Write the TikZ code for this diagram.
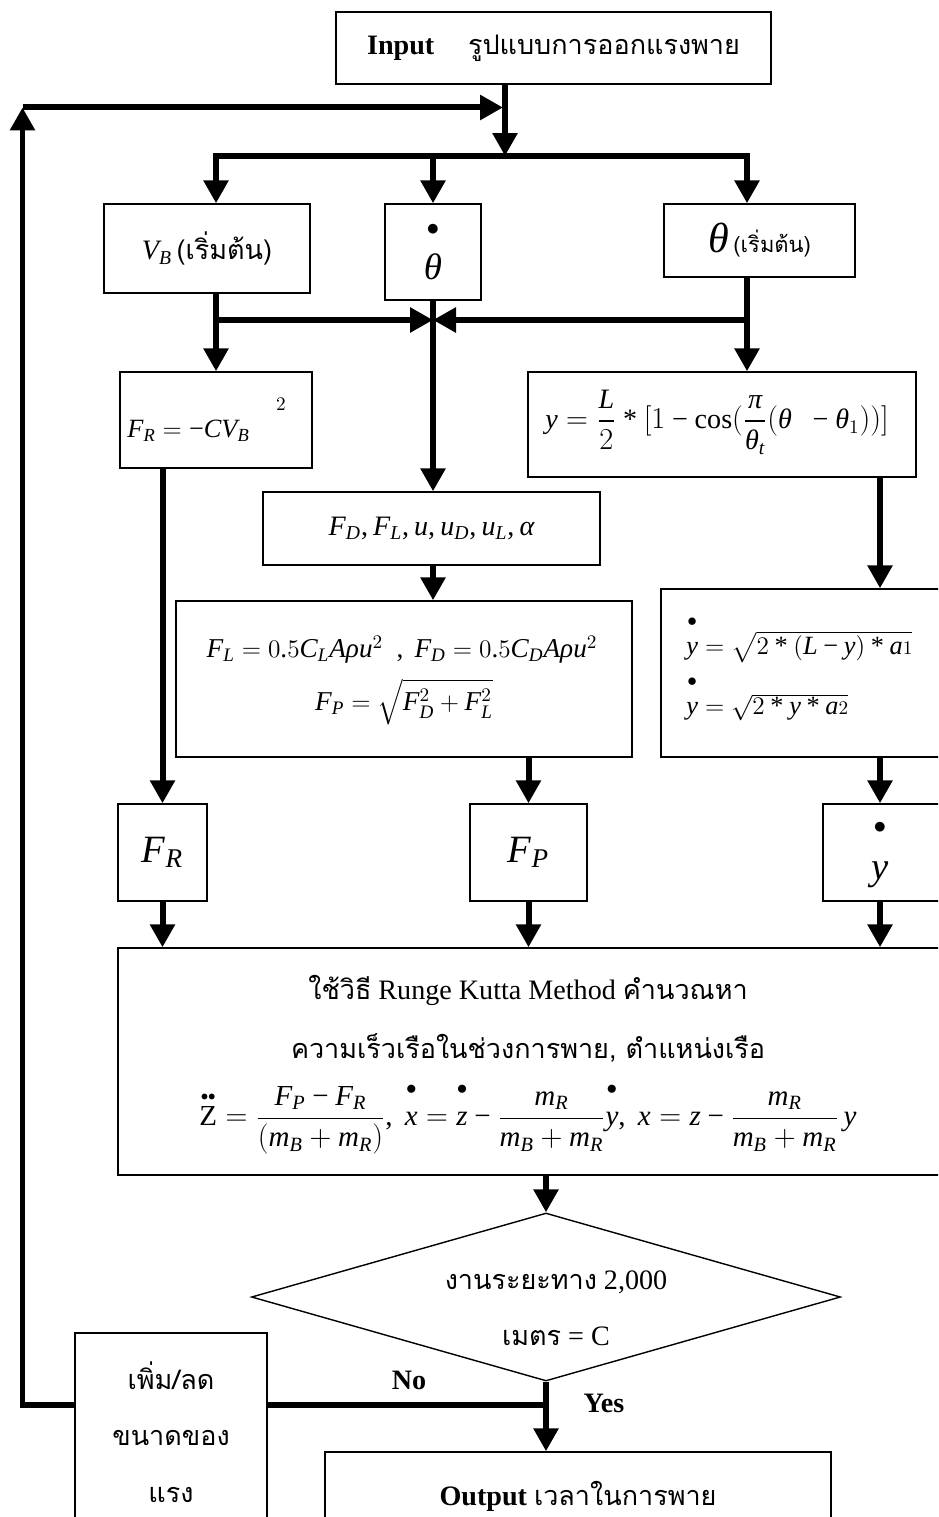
\documentclass[tikz,border=0pt]{standalone}
\usepackage{amsmath}
\usepackage{fontspec}
\setmainfont{Liberation Serif}
\setmathrm{Liberation Serif}
\newfontfamily\thai[Script=Thai, Scale=0.96]{Loma}
\DeclareSymbolFont{tit}{TU}{\rmdefault}{m}{it}
\DeclareSymbolFont{trm}{TU}{\rmdefault}{m}{n}
\newcount\mcnt
\mcnt=`a \loop \Umathcode\mcnt="7 \symtit\mcnt \ifnum\mcnt<`z \advance\mcnt by 1 \repeat
\mcnt=`A \loop \Umathcode\mcnt="7 \symtit\mcnt \ifnum\mcnt<`Z \advance\mcnt by 1 \repeat
\mcnt=`0 \loop \Umathcode\mcnt="7 \symtrm\mcnt \ifnum\mcnt<`9 \advance\mcnt by 1 \repeat
\Umathcode`(="4 \symtrm`(
\Umathcode`)="5 \symtrm`)
\Umathcode`[="4 \symtrm`[
\Umathcode`]="5 \symtrm`]
\Umathcode`,="6 \symtrm`,
\Umathcode`.="0 \symtrm`.
\Umathcode`*="2 \symtrm`*
\Umathcode`+="2 \symtrm`+
\Umathcode`=="3 \symtrm`=
\Umathcode`-="2 \symtrm"2212
\Umathchardef\theta="0 \symtit "03B8
\Umathchardef\pi="0 \symtit "03C0
\Umathchardef\rho="0 \symtit "03C1
\Umathchardef\alpha="0 \symtit "03B1
\usetikzlibrary{arrows.meta,shapes.geometric,calc}
\newcommand{\fsz}[2]{\fontsize{#1}{#2}\selectfont}
\newcommand{\bdt}[1]{\overset{\scriptstyle\bullet}{#1\rule{0pt}{1.9ex}}}
\tikzset{
  ln/.style={line width=0.12cm},
  arr/.style={ln, -{Triangle[length=0.46cm,width=0.48cm]}},
  bx/.style 2 args={draw, line width=0.8pt, inner sep=0pt,
    minimum width=#1*0.02cm, minimum height=#2*0.02cm},
  txt/.style={inner sep=0pt, align=center},
}
\begin{document}
\begin{tikzpicture}[x=0.02cm, y=-0.02cm, font=\fsz{16}{32}]
\useasboundingbox (0,0) rectangle (938,1517);
\clip (0,0) rectangle (938,1517);

% boxes
\node[bx={435}{72}] (inp) at (553.5,48) {\textbf{Input}\hspace{1.2em}{\thai รูปแบบการออกแรงพาย}};
\node[bx={206}{89}] (vb) at (207,248.5) {$V_B$\,{\thai (เริ่มต้น)}};
\node[bx={96}{96}, align=center, font=\fsz{21}{25}] (td) at (433,252) {$\scriptstyle\bullet$\\$\theta$};
\node[bx={191}{73}] (th) at (759.5,240.5) {{\fsz{24}{26}$\theta$}\,{\thai\fsz{13}{16}(เริ่มต้น)}};
\node[bx={192}{96}] (fr) at (216,420) {};
\node[bx={388}{105}] (yb) at (722,424.5) {};
\node[bx={337}{73}, font=\fsz{16}{18}] (fd) at (431.5,528.5) {$F_D,F_L,u,u_D,u_L,\alpha$};
\node[bx={456}{156}] (fl) at (404,679) {};
\node[bx={299}{168}] (yd) at (810.5,673) {};
\node[bx={89}{97}, font=\fsz{22}{24}] (frs) at (162.5,852.5) {$F_R$};
\node[bx={117}{97}, font=\fsz{22}{24}] (fps) at (528.5,852.5) {$F_P$};
\node[bx={137}{97}] (yds) at (891.5,852.5) {};
\node[bx={842}{227}] (rk) at (539,1061.5) {};
\node[draw, line width=0.8pt, diamond, shape aspect=3.5, inner sep=0pt,
      minimum width=589*0.02cm, minimum height=168*0.02cm] (dec) at (546,1297) {};
\node[bx={192}{207}] (fb) at (171,1436.5) {};
\node[bx={506}{88}] (out) at (578,1496) {\textbf{Output} {\thai เวลาในการพาย}};

% texts placed inside boxes
\node[txt, font=\fsz{15}{17}] (frt) at (207,420) {$F_R=-CV_B{}^{\quad\raisebox{10pt}{$\scriptstyle 2$}}$};
\node[txt, font=\fsz{16}{18}] (ybt) at (717,422) {$y=\dfrac{L}{2}*[1-\cos(\dfrac{\pi}{\theta_t}(\theta\ \ -\theta_1))]$};
\node[txt, font=\fsz{15.5}{18}] (fl1) at (402,650) {$F_L=0.5C_LA\rho u^2\ \ ,\ F_D=0.5C_DA\rho u^2$};
\node[txt, font=\fsz{15.5}{18}] (fl2) at (404,702) {$F_P=\sqrt{F_D^2+F_L^2}$};
\node[txt, anchor=west, align=left, font=\fsz{15}{34}] (ydt) at (686,668)
  {$\bdt{y}=\sqrt{2*(L-y)*a{\scriptstyle 1}}$\\$\bdt{y}=\sqrt{2*y*a{\scriptstyle 2}}$};
\node[txt, font=\fsz{22}{26}] (ydst) at (880,855) {$\scriptstyle\bullet$\\$y$};
\node[txt] (rk1) at (528,990) {{\thai ใช้วิธี} Runge Kutta Method {\thai คำนวณหา}};
\node[txt] (rk2) at (528,1048) {{\thai ความเร็วเรือในช่วงการพาย, ตำแหน่งเรือ}};
\node[txt, font=\fsz{16.5}{18}] (rk3) at (528,1118)
  {$\overset{\scriptscriptstyle\bullet\bullet}{\mathrm{Z}}=\dfrac{F_P-F_R}{(m_B+m_R)},\ \bdt{x}=\bdt{z}-\dfrac{m_R}{m_B+m_R}\bdt{y},\ x=z-\dfrac{m_R}{m_B+m_R}\,y$};
\node[txt] (dect) at (556,1308) {{\thai งานระยะทาง} 2,000\\{\thai เมตร} = C};
\node[txt] (fbt) at (171,1432) {{\thai เพิ่ม/ลด}\\{\thai ขนาดของ}\\{\thai แรง}};
\node[txt, font=\fsz{16}{19}\bfseries] (no) at (409,1380) {No};
\node[txt, font=\fsz{16}{19}\bfseries] (yes) at (604,1403) {Yes};

% coordinates
\coordinate (J0) at (505,156);
\coordinate (BL) at (216,156);
\coordinate (BM) at (433,156);
\coordinate (BR) at (747,156);
\coordinate (L2) at (216,320);
\coordinate (M2) at (433,320);
\coordinate (R2) at (747,320);
\coordinate (cY) at (880,0);
\coordinate (NJ) at (546,1405);
\coordinate (LB) at (22.5,1405);
\coordinate (LT) at (22.5,107.5);
\coordinate (TJ) at (503,107.5);

% connectors
\draw[arr] (inp.south -| J0) -- (J0);
\draw[arr] (J0) -- (BL) -- (BL |- vb.north);
\draw[arr] (J0) -- (BR) -- (BR |- th.north);
\draw[arr] (BM) -- (BM |- td.north);
\draw[ln] (BL |- vb.south) -- (L2);
\draw[arr] (L2) -- (M2);
\draw[arr] (L2) -- (L2 |- fr.north);
\draw[ln] (BR |- th.south) -- (R2);
\draw[arr] (R2) -- (M2);
\draw[arr] (R2) -- (R2 |- yb.north);
\draw[arr] (td.south) -- (td.south |- fd.north);
\draw[arr] (fr.south -| frs.north) -- (frs.north);
\draw[arr] (fd.south -| M2) -- (fl.north -| M2);
\draw[arr] (fl.south -| fps.north) -- (fps.north);
\draw[arr] (yb.south -| cY) -- (yd.north -| cY);
\draw[arr] (yd.south -| cY) -- (yds.north -| cY);
\draw[arr] (frs.south) -- (rk.north -| frs.south);
\draw[arr] (fps.south) -- (rk.north -| fps.south);
\draw[arr] (yds.south -| cY) -- (rk.north -| cY);
\draw[arr] (rk.south -| dec.north) -- (dec.north);
\draw[arr] (dec.south) -- (out.north -| dec.south);
\draw[ln] (NJ) -- (fb.east |- NJ);
\draw[arr] (fb.west |- NJ) -- (LB) -- (LT);
\draw[arr] (LT) -- (TJ);
\end{tikzpicture}
\end{document}
